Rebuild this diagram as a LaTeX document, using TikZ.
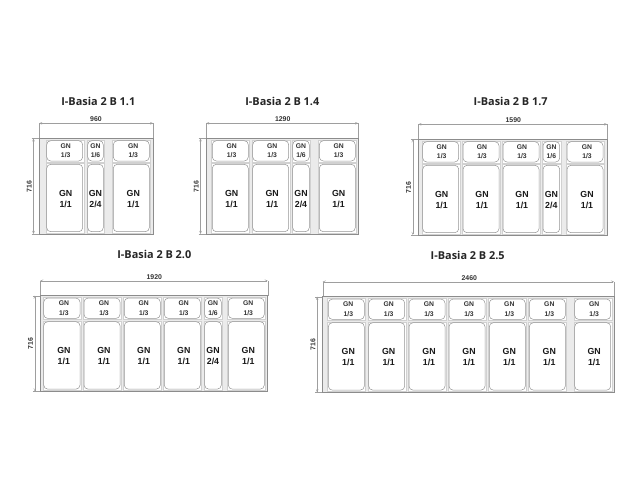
\documentclass[tikz,border=0pt]{standalone}
\usetikzlibrary{arrows.meta}
\usepackage{fontspec}
\setmainfont{Liberation Sans}
\newfontfamily\titlefont{Open Sans}
\tikzset{
  x=1pt,y=-1pt,
  tray/.style={draw=black!45,line width=.5pt,fill=black!8},
  cell/.style={draw=black!18,line width=.3pt,fill=white},
  pan/.style={draw=black!42,line width=.5pt,fill=white,rounded corners=4pt},
  smalllabel/.style={font=\fontsize{6.8}{9.2}\selectfont\bfseries,align=center,inner sep=0pt,text=black!80},
  biglabel/.style={font=\fontsize{8.8}{11}\selectfont\bfseries,align=center,inner sep=0pt,text=black!90},
  titlelabel/.style={font=\titlefont\fontsize{10.9}{12}\selectfont\bfseries,inner sep=0pt,text=black!85},
  dimline/.style={draw=black!38,line width=.4pt},
  dimarrow/.style={dimline,{Straight Barb[length=2.5pt,width=2pt]}-{Straight Barb[length=2.5pt,width=2pt]}},
  dimlabel/.style={font=\fontsize{6.9}{8}\selectfont\bfseries,inner sep=0pt,text=black!80},
}
% #1 id, #2 left, #3 right, #4 top, #5 title position, #6 version, #7 width text, #8 width text x, #9 pans
\newcommand{\basia}[9]{%
  \pgfmathsetmacro{\boty}{#4+95.7}
  \pgfmathsetmacro{\dimy}{#4-15}
  \pgfmathsetmacro{\dimx}{#2-5.5}
  \node[titlelabel] (#1title) at #5 {I-Basia 2 B #6};
  \node[dimlabel] (#1w) at (#8,#4-19) {#7};
  \node[dimlabel,rotate=90] (#1h) at (#2-9.8,#4+48) {716};
  \coordinate (#1a) at (#2,#4);
  \coordinate (#1b) at (#3,#4);
  \coordinate (#1c) at (#2,\boty);
  \coordinate (#1da) at (#2,\dimy);
  \coordinate (#1db) at (#3,\dimy);
  \coordinate (#1dc) at (\dimx,#4);
  \coordinate (#1dd) at (\dimx,\boty);
  \draw[dimline] (#1a) -- (#1da);
  \draw[dimline] (#1b) -- (#1db);
  \draw[dimarrow] (#1da) -- (#1db);
  \draw[dimline] ([xshift=-2pt]#1dc) -- (#1a);
  \draw[dimline] ([xshift=-2pt]#1dd) -- (#1c);
  \draw[dimarrow] (#1dc) -- (#1dd);
  \draw[tray] (#1a) rectangle (#3,\boty);
  \foreach \xa/\xb/\off/\sm/\bg [count=\i] in {#9} {
    \pgfmathsetmacro{\xm}{(\xa+\xb)/2}
    \pgfmathsetmacro{\xt}{\xm+\off}
    \draw[cell] (\xa-1,#4+1.4) rectangle (\xb+1,#4+23.7);
    \draw[cell] (\xa-1,#4+25) rectangle (\xb+1,#4+94.4);
    \draw[pan] (\xa,#4+2.4) rectangle (\xb,#4+22.7);
    \draw[pan] (\xa,#4+26) rectangle (\xb,#4+93.4);
    \node[smalllabel] (#1s\i) at (\xt,#4+12.4) {GN\\\sm};
    \node[biglabel] (#1l\i) at (\xt,#4+60.6) {GN\\\bg};
  }
}
\begin{document}
\begin{tikzpicture}
\useasboundingbox[fill=white] (0,0) rectangle (636,500);
\basia{bA}{39}{153.3}{138.3}{(98.3,101)}{1.1}{960}{96}{%
  46.7/82.7/1/{1/3}/{1/1},87.7/103.3/0/{1/6}/{2/4},113.3/149.3/2/{1/3}/{1/1}}
\basia{bB}{206}{358.3}{138.3}{(282.3,101)}{1.4}{1290}{282.7}{%
  212.3/248.3/1.3/{1/3}/{1/1},252.7/288.7/1.5/{1/3}/{1/1},292.7/309.3/0/{1/6}/{2/4},319.3/355.3/1.3/{1/3}/{1/1}}
\basia{bC}{418.3}{607.3}{139.3}{(510.7,101)}{1.7}{1590}{513.3}{%
  422.7/458.7/1/{1/3}/{1/1},463/499/1/{1/3}/{1/1},503/539/1/{1/3}/{1/1},543/559.7/0/{1/6}/{2/4},567/603/2/{1/3}/{1/1}}
\basia{bD}{40.3}{267.7}{295.7}{(154.3,254.7)}{2.0}{1920}{154.3}{%
  43.7/80/2/{1/3}/{1/1},84/120/2/{1/3}/{1/1},124.3/160.3/1.5/{1/3}/{1/1},164.3/200.3/1.5/{1/3}/{1/1},204.7/221.3/0/{1/6}/{2/4},228.3/264.3/2/{1/3}/{1/1}}
\basia{bE}{322.7}{614}{296.7}{(467.7,255.7)}{2.5}{2460}{469.3}{%
  328.3/364.3/2/{1/3}/{1/1},368.7/404.7/2/{1/3}/{1/1},409/445/2/{1/3}/{1/1},449/485/2/{1/3}/{1/1},489.3/525.3/2/{1/3}/{1/1},529.3/565.3/2/{1/3}/{1/1},574.7/610.7/1.5/{1/3}/{1/1}}
\end{tikzpicture}
\end{document}
